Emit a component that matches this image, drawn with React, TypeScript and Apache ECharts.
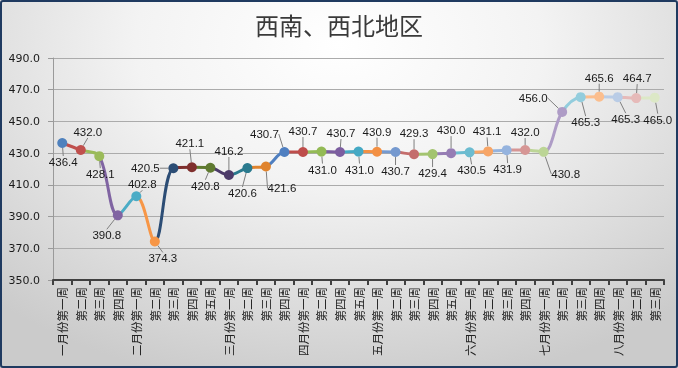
import React, { useEffect, useRef } from "react";
import * as echarts from "echarts";

const title = "西南、西北地区";

const categories = [
  "一月份第一周", "第二周", "第三周", "第四周",
  "二月份第一周", "第二周", "第三周", "第四周", "第五周",
  "三月份第一周", "第二周", "第三周", "第四周",
  "四月份第一周", "第二周", "第四周", "第五周",
  "五月份第一周", "第二周", "第三周", "第四周", "第五周",
  "六月份第一周", "第二周", "第三周", "第四周",
  "七月份第一周", "第二周", "第三周", "第四周",
  "八月份第一周", "第二周", "第三周",
];

const values = [
  436.4, 432.0, 428.1, 390.8,
  402.8, 374.3, 420.5, 421.1, 420.8,
  416.2, 420.6, 421.6, 430.7,
  430.7, 431.0, 430.7, 431.0,
  430.9, 430.7, 429.3, 429.4, 430.0,
  430.5, 431.1, 431.9, 432.0,
  430.8, 456.0, 465.3, 465.6,
  465.3, 464.7, 465.0,
];

const yMin = 350;
const yMax = 490;
const yStep = 20;

// styling: per-point colours (Excel "vary colours by point")
const pointColors = [
  "#4F81BD", "#C0504D", "#9BBB59", "#8064A2", "#4BACC6", "#F79646",
  "#2C4D75", "#7F2F2D", "#5F7A30", "#4D3B6A", "#2A7A8E", "#E0842E",
  "#4F7FC0", "#BE4D4B", "#93BA55", "#7C5EA0", "#45A9C4", "#F39043",
  "#7599CF", "#C46D6C", "#A3C46F", "#967DB4", "#6CBCD0", "#F7A566",
  "#95B3DE", "#D69695", "#BCD596", "#AE9CC6", "#93CDDD", "#FBBE8E",
  "#B9CCE6", "#E6BAB9", "#DCE8C6",
];

// styling: label offsets (dx, dy) from each point
const labelOffsets: [number, number][] = [
  [1, 19], [7, -18], [1, 18], [-11, 20], [6, -12], [8, 17],
  [-28, 0], [-2, -24], [-5, 18], [0, -24], [-5, 25], [16, 22],
  [-20, -18], [0, -21], [1, 18], [1, -19], [1, 18], [0, -20],
  [0, 19], [0, -21], [0, 19], [0, -23], [2, 18], [-1, -20],
  [1, 19], [0, -18], [22, 22], [-29, -14], [5, 25], [0, -19],
  [8, 22], [1, -20], [3, 22],
];

export default function App() {
  const ref = useRef<HTMLDivElement>(null);

  useEffect(() => {
    document.body.style.margin = "0";
    if (!ref.current) return;
    const chart = echarts.init(ref.current, null, { renderer: "svg" });

    const pieces = values.map((_, i) =>
      i === 0
        ? { lte: 0, color: pointColors[0] }
        : { gt: i - 1, lte: i, color: pointColors[i % pointColors.length] }
    );

    chart.setOption({
      animation: false,
      title: {
        text: title,
        left: "center",
        top: 7,
        textStyle: {
          fontFamily: "Noto Sans CJK SC",
          fontSize: 24,
          fontWeight: "normal",
          color: "#3a3a3a",
        },
      },
      grid: { left: 53, right: 14, top: 58, bottom: 88, containLabel: false },
      xAxis: {
        type: "category",
        data: categories,
        boundaryGap: true,
        axisLine: { show: true, lineStyle: { color: "#404040", width: 2 } },
        axisTick: { show: true, length: 5, lineStyle: { color: "#404040", width: 2 } },
        axisLabel: {
          interval: 0,
          rotate: 90,
          margin: 7,
          fontFamily: "Noto Sans CJK SC",
          fontSize: 11.5,
          color: "#222",
        },
        splitLine: { show: false },
      },
      yAxis: {
        type: "value",
        min: yMin,
        max: yMax,
        interval: yStep,
        axisLine: { show: true, lineStyle: { color: "#9a9a9a", width: 1 } },
        axisTick: { show: true, length: 5, lineStyle: { color: "#9a9a9a" } },
        axisLabel: {
          margin: 13,
          formatter: (v: number) => v.toFixed(1),
          fontFamily: "DejaVu Sans",
          fontSize: 11,
          color: "#1a1a1a",
        },
        splitLine: { show: true, lineStyle: { color: "#ababab", width: 1 } },
      },
      visualMap: {
        type: "piecewise",
        show: false,
        dimension: 0,
        seriesIndex: 0,
        pieces,
      },
      series: [
        {
          type: "line",
          data: values,
          smooth: 0.35,
          symbol: "circle",
          symbolSize: 10,
          lineStyle: { width: 3 },
          label: {
            show: true,
            position: "inside",
            formatter: (p: any) => Number(p.value).toFixed(1),
            fontFamily: "Liberation Sans",
            fontSize: 11.5,
            color: "#1a1a1a",
          },
          labelLine: {
            show: true,
            lineStyle: { color: "#7f7f7f", width: 1 },
          },
          labelLayout: (params: any) => {
            const o = labelOffsets[params.dataIndex] || [0, -18];
            return { dx: o[0], dy: o[1] };
          },
        },
      ],
    });

    return () => chart.dispose();
  }, []);

  return (
    <div
      style={{
        position: "fixed",
        left: 0,
        top: 0,
        width: 678,
        height: 368,
        background:
          "radial-gradient(ellipse 75% 95% at 50% 12%, #ffffff 0%, #f3f3f3 40%, #cbcbcb 100%)",
      }}
    >
      <div ref={ref} style={{ position: "absolute", left: 0, top: 0, width: 678, height: 368 }} />
      <div
        style={{
          position: "absolute",
          left: 0,
          top: 0,
          width: 678,
          height: 368,
          boxSizing: "border-box",
          border: "2px solid #1F3A60",
          borderRadius: 3,
          pointerEvents: "none",
        }}
      />
    </div>
  );
}
